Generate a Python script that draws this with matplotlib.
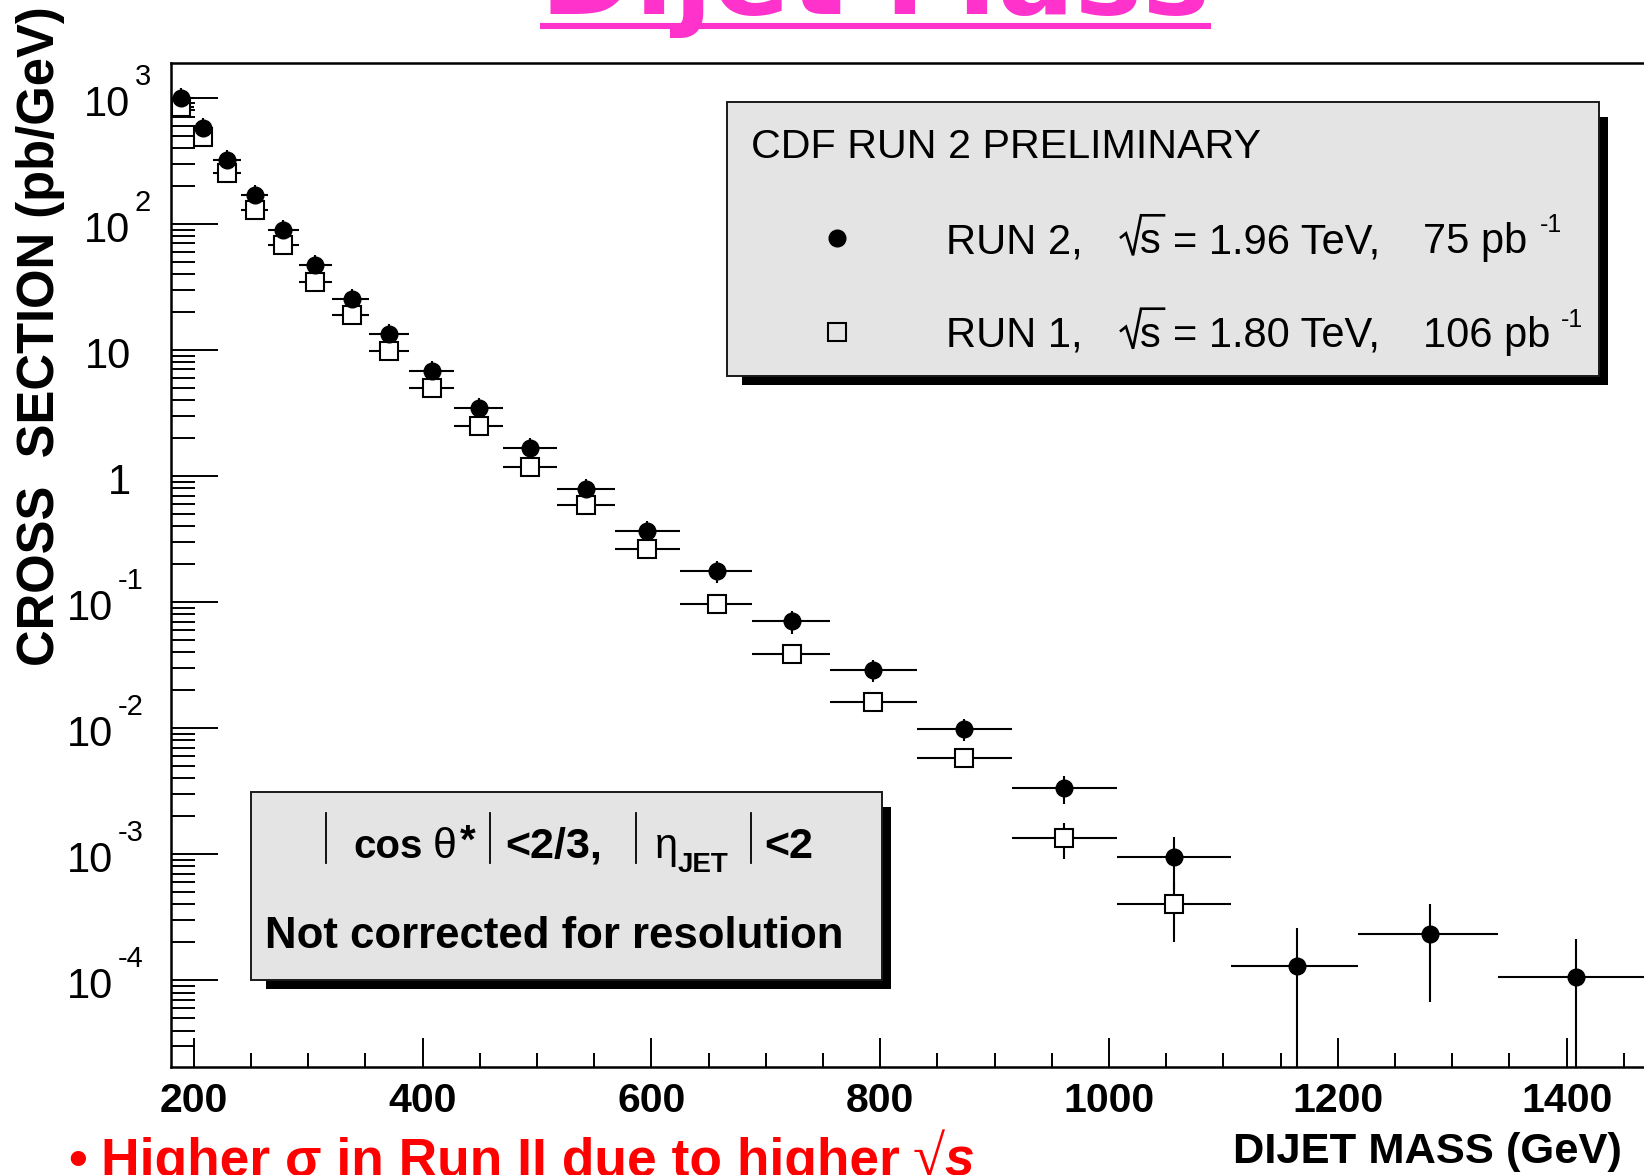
import matplotlib
matplotlib.use("Agg")
import matplotlib.pyplot as plt
from matplotlib import transforms
from matplotlib.patches import Rectangle
from matplotlib.lines import Line2D
from matplotlib.ticker import LogLocator, MultipleLocator, NullFormatter

# dijet mass bins (GeV) and the mass at which each point is drawn
bin_edges = [180, 200, 217, 241, 265, 292, 321, 353, 388, 427, 470, 517,
             568, 625, 688, 756, 832, 915, 1007, 1107, 1218, 1340, 1474]
mass = [189, 208, 229, 253, 278, 306, 338, 371, 408, 449, 494, 543,
        596, 657, 723, 794, 873, 961, 1057, 1164, 1281, 1408]

# Run 2 cross section (pb/GeV) and relative uncertainty per bin
run2_xsec = [1000, 580, 318, 169, 89.3, 47.3, 25.3, 13.4, 6.78, 3.45, 1.67,
             0.795, 0.365, 0.176, 0.0702, 0.0290, 0.00993, 0.00335,
             9.55e-4, 1.30e-4, 2.34e-4, 1.07e-4]
run2_relerr = [0.2, 0.2, 0.2, 0.2, 0.2, 0.2, 0.2, 0.2, 0.2, 0.2, 0.2,
               0.2, 0.2, 0.2, 0.2, 0.2, 0.2, 0.25, 0.44, 0.99, 0.71, 0.99]

# Run 1 cross section (first 19 bins)
run1_xsec = [849, 486, 254, 129, 67.9, 34.7, 18.9, 9.87, 4.97, 2.51, 1.17,
             0.589, 0.264, 0.0973, 0.0388, 0.0161, 0.00575, 0.00134, 4.0e-4]
run1_relerr = [0.1, 0.1, 0.1, 0.1, 0.1, 0.1, 0.1, 0.1, 0.1, 0.1, 0.1,
               0.1, 0.1, 0.1, 0.1, 0.1, 0.1, 0.31, 0.5]

decades = [3, 2, 1, 0, -1, -2, -3, -4]

W, H = 1644, 1175
SANS = "Liberation Sans"
plt.rcParams["font.family"] = SANS

fig = plt.figure(figsize=(W / 100, H / 100), dpi=100)
fig.patch.set_facecolor("white")


def fx(x):
    return x / W


def fy(y):
    return 1 - y / H


def ftext(x, y, s, **kw):
    kw.setdefault("va", "baseline")
    kw.setdefault("ha", "left")
    return fig.text(fx(x), fy(y), s, **kw)


def fline(xs, ys, **kw):
    fig.add_artist(Line2D([fx(x) for x in xs], [fy(y) for y in ys], **kw))


def pave(x0, y0, x1, y1):
    # grey box with a black drop shadow, ROOT style
    fig.patches.append(Rectangle((fx(x0 + 15), fy(y1 + 9)), (x1 - x0 - 6) / W,
                                 (y1 - y0 - 6) / H, transform=fig.transFigure,
                                 facecolor="black", edgecolor="none", zorder=5))
    fig.patches.append(Rectangle((fx(x0), fy(y1)), (x1 - x0) / W, (y1 - y0) / H,
                                 transform=fig.transFigure, facecolor="#e4e4e4",
                                 edgecolor="#1a1a1a", linewidth=1.4, zorder=6))


def sqrt_s(x, base):
    # radical sign with its bar over an upright s
    fline([x, x + 5, x + 12, x + 20, x + 43], [base - 16, base - 20, base + 2,
          base - 38, base - 38], color="black", lw=1.9, zorder=7,
          solid_joinstyle="miter")
    ftext(x + 19, base, "s", fontsize=30, zorder=7)


# axes frame: left edge at 180 GeV, right edge runs past the figure
ax = fig.add_axes([fx(171), fy(1067), (1681 - 171) / W, (1067 - 63) / H])
ax.set_xlim(180, 1500)
ax.set_yscale("log")
ax.set_ylim(10 ** -4.687, 10 ** 3.275)
for sp in ax.spines.values():
    sp.set_linewidth(1.8)

lo = [m - e for m, e in zip(mass, bin_edges[:-1])]
hi = [e - m for m, e in zip(mass, bin_edges[1:])]
n1 = len(run1_xsec)
err1 = [v * r for v, r in zip(run1_xsec, run1_relerr)]
err2 = [v * r for v, r in zip(run2_xsec, run2_relerr)]

ax.errorbar(mass[:n1], run1_xsec, xerr=[lo[:n1], hi[:n1]], yerr=err1,
            fmt="none", ecolor="black", elinewidth=1.5, capsize=0, zorder=2)
ax.errorbar(mass, run2_xsec, xerr=[lo, hi], yerr=err2,
            fmt="none", ecolor="black", elinewidth=1.5, capsize=0, zorder=2)
ax.plot(mass[:n1], run1_xsec, "s", ms=12.5, mfc="white", mec="black", mew=1.5,
        zorder=3, clip_on=False)
ax.plot(mass, run2_xsec, "o", ms=12, color="black", zorder=4)

ax.xaxis.set_major_locator(MultipleLocator(200))
ax.xaxis.set_minor_locator(MultipleLocator(50))
ax.yaxis.set_major_locator(LogLocator(base=10, numticks=20))
ax.yaxis.set_minor_locator(LogLocator(base=10, subs=range(2, 10), numticks=20))
ax.yaxis.set_minor_formatter(NullFormatter())
ax.tick_params(which="both", direction="in", top=False, right=False, width=1.4)
ax.tick_params(axis="y", which="major", length=34, labelleft=False)
ax.tick_params(axis="y", which="minor", length=17)
ax.tick_params(axis="x", which="major", length=21, pad=11, labelsize=29.5)
ax.tick_params(axis="x", which="minor", length=10)
for lab in ax.get_xticklabels():
    lab.set_fontweight("bold")

# y tick labels drawn as 10 plus a raised exponent
ylab_tr = transforms.blended_transform_factory(fig.transFigure, ax.transData)
main_tr = transforms.offset_copy(ylab_tr, fig=fig, x=0, y=-18, units="dots")
sup_tr = transforms.offset_copy(ylab_tr, fig=fig, x=0, y=13, units="dots")
for e in decades:
    if e in (0, 1):
        fig.text(fx(131), 10.0 ** e, "1" if e == 0 else "10", transform=main_tr,
                 ha="right", va="baseline", fontsize=30)
        continue
    right = 130 if e > 0 else 113
    fig.text(fx(right), 10.0 ** e, "10", transform=main_tr,
             ha="right", va="baseline", fontsize=30)
    fig.text(fx(right + 5), 10.0 ** e, str(e), transform=sup_tr,
             ha="left", va="baseline", fontsize=21)

fig.text(fx(41), fy(666), "CROSS  SECTION (pb/GeV)", rotation=90,
         ha="center", va="bottom", fontsize=36.5, fontweight="bold")
ftext(1622, 1163, "DIJET MASS (GeV)", ha="right", fontsize=31.3,
      fontweight="bold")

# legend pave
pave(726.6, 101.7, 1598.5, 376.4)
ftext(750.7, 158.3, "CDF RUN 2 PRELIMINARY", fontsize=29.7, zorder=7)
fig.add_artist(Line2D([fx(836.7)], [fy(238.3)], marker="o", ms=12,
                      color="black", zorder=7))
fig.add_artist(Line2D([fx(836.7)], [fy(331.7)], marker="s", ms=13,
                      mfc="#e4e4e4", mec="black", mew=1.5, zorder=7))
rows = [(253.3, "RUN 2,", "= 1.96 TeV,", "75 pb", 1540, 231.7),
        (346.7, "RUN 1,", "= 1.80 TeV,", "106 pb", 1561, 326.7)]
for base_y, run, energy, lumi, sup_x, sup_y in rows:
    ftext(945.6, base_y, run, fontsize=30, zorder=7)
    sqrt_s(1121, base_y)
    ftext(1172.6, base_y, energy, fontsize=30, zorder=7)
    ftext(1422.5, base_y, lumi, fontsize=30, zorder=7)
    ftext(sup_x, sup_y, "-1", fontsize=18, zorder=7)

# selection cuts pave
pave(250.6, 791.6, 881.8, 980.3)
for bx in [326, 490, 636, 751]:
    fline([bx, bx], [813, 863], color="black", lw=1.3, zorder=7)
ftext(353.6, 858, "cos", fontsize=29, fontweight="bold", zorder=7)
ftext(433, 858, "\u03b8", fontsize=31, zorder=7)
ftext(460, 853, "*", fontsize=29, fontweight="bold", zorder=7)
ftext(505, 858, "<2/3,", fontsize=31, fontweight="bold", zorder=7)
ftext(654.6, 858, "\u03b7", fontsize=30, zorder=7)
ftext(678, 871.7, "JET", fontsize=20, fontweight="bold", zorder=7)
ftext(764, 858, "<2", fontsize=31, fontweight="bold", zorder=7)
ftext(265, 947.5, "Not corrected for resolution", fontsize=31.5,
      fontweight="bold", zorder=7)

# slide title and bullet text around the plot
ftext(875, 14, "Dijet Mass", ha="center", fontsize=82, family="DejaVu Sans",
      fontweight="bold", color="#ff33cc")
fline([540, 1211], [26, 26], color="#ff33cc", lw=4.4, solid_capstyle="butt")
red = "#ff0000"
ftext(68, 1176, "\u2022", fontsize=38.4, fontweight="bold", color=red)
ftext(101, 1176, "Higher \u03c3 in Run II due to higher", fontsize=38.4,
      fontweight="bold", color=red)
ftext(913, 1176, "\u221a", fontsize=42, family="Liberation Serif", color=red)
ftext(944, 1176, "s", fontsize=38.4, fontweight="bold", style="italic",
      color=red)

fig.savefig("out.png", dpi=100)
